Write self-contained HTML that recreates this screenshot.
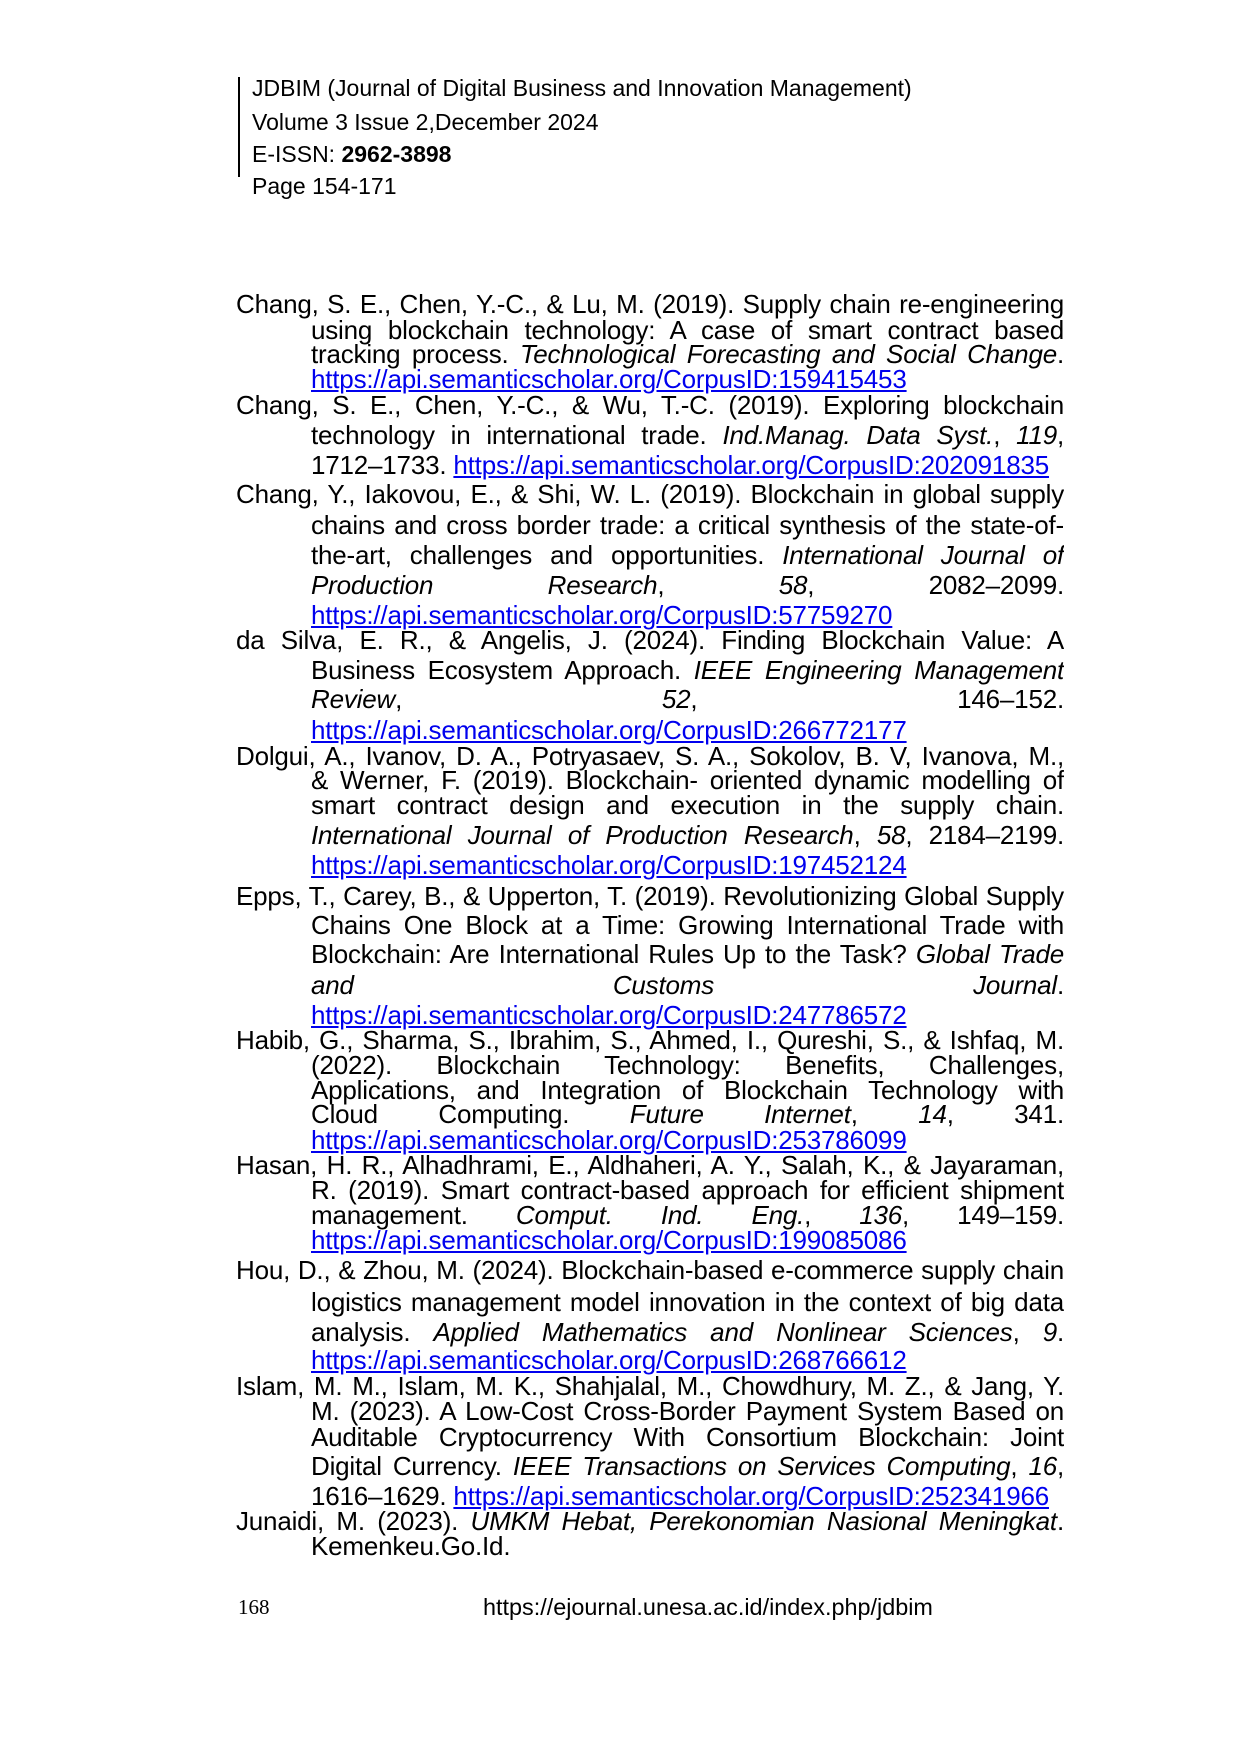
<!DOCTYPE html>
<html><head><meta charset="utf-8"><style>
body{margin:0;background:#fff;}
.p{position:relative;width:1240px;height:1754px;overflow:hidden;font-family:"Liberation Sans",Arial,sans-serif;color:#000;}
.l{position:absolute;height:30px;line-height:30px;font-size:26px;letter-spacing:-0.2px;white-space:nowrap;}
.j{text-align:justify;text-align-last:justify;white-space:normal;overflow:hidden;}
.f{left:236px;width:828px;}
.i{left:311px;width:753px;}
a{color:#0000ee;text-decoration:underline;}
.h{position:absolute;left:252px;font-size:23px;line-height:30px;height:30px;white-space:nowrap;}
</style></head><body><div class="p">
<div style="position:absolute;left:238px;top:77px;width:2px;height:100px;background:#000"></div>
<div class="h" style="top:73px">JDBIM (Journal of Digital Business and Innovation Management)</div>
<div class="h" style="top:107px">Volume 3 Issue 2,December 2024</div>
<div class="h" style="top:139px">E-ISSN: <b>2962-3898</b></div>
<div class="h" style="top:171px">Page 154-171</div>

<div class="l j f" style="top:289px">Chang, S. E., Chen, Y.-C., &amp; Lu, M. (2019). Supply chain re-engineering</div>
<div class="l j i" style="top:315px">using blockchain technology: A case of smart contract based</div>
<div class="l j i" style="top:339px">tracking process. <i>Technological Forecasting and Social Change</i>.</div>
<div class="l i" style="top:364px"><a>https://api.semanticscholar.org/CorpusID:159415453</a></div>

<div class="l j f" style="top:390px">Chang, S. E., Chen, Y.-C., &amp; Wu, T.-C. (2019). Exploring blockchain</div>
<div class="l j i" style="top:420px">technology in international trade. <i>Ind.Manag. Data Syst.</i>, <i>119</i>,</div>
<div class="l i" style="top:450px">1712–1733. <a>https://api.semanticscholar.org/CorpusID:202091835</a></div>

<div class="l j f" style="top:479px">Chang, Y., Iakovou, E., &amp; Shi, W. L. (2019). Blockchain in global supply</div>
<div class="l j i" style="top:510px">chains and cross border trade: a critical synthesis of the state-of-</div>
<div class="l j i" style="top:540px">the-art, challenges and opportunities. <i>International Journal of</i></div>
<div class="l j i" style="top:570px"><i>Production Research</i>, <i>58</i>, 2082–2099.</div>
<div class="l i" style="top:600px"><a>https://api.semanticscholar.org/CorpusID:57759270</a></div>

<div class="l j f" style="top:625px">da Silva, E. R., &amp; Angelis, J. (2024). Finding Blockchain Value: A</div>
<div class="l j i" style="top:655px">Business Ecosystem Approach. <i>IEEE Engineering Management</i></div>
<div class="l j i" style="top:684px"><i>Review</i>, <i>52</i>, 146–152.</div>
<div class="l i" style="top:715px"><a>https://api.semanticscholar.org/CorpusID:266772177</a></div>

<div class="l j f" style="top:741px">Dolgui, A., Ivanov, D. A., Potryasaev, S. A., Sokolov, B. V, Ivanova, M.,</div>
<div class="l j i" style="top:765px">&amp; Werner, F. (2019). Blockchain- oriented dynamic modelling of</div>
<div class="l j i" style="top:790px">smart contract design and execution in the supply chain.</div>
<div class="l j i" style="top:820px"><i>International Journal of Production Research</i>, <i>58</i>, 2184–2199.</div>
<div class="l i" style="top:850px"><a>https://api.semanticscholar.org/CorpusID:197452124</a></div>

<div class="l j f" style="top:881px">Epps, T., Carey, B., &amp; Upperton, T. (2019). Revolutionizing Global Supply</div>
<div class="l j i" style="top:910px">Chains One Block at a Time: Growing International Trade with</div>
<div class="l j i" style="top:939px">Blockchain: Are International Rules Up to the Task? <i>Global Trade</i></div>
<div class="l j i" style="top:970px"><i>and Customs Journal</i>.</div>
<div class="l i" style="top:1000px"><a>https://api.semanticscholar.org/CorpusID:247786572</a></div>

<div class="l j f" style="top:1025px">Habib, G., Sharma, S., Ibrahim, S., Ahmed, I., Qureshi, S., &amp; Ishfaq, M.</div>
<div class="l j i" style="top:1050px">(2022). Blockchain Technology: Benefits, Challenges,</div>
<div class="l j i" style="top:1075px">Applications, and Integration of Blockchain Technology with</div>
<div class="l j i" style="top:1099px">Cloud Computing. <i>Future Internet</i>, <i>14</i>, 341.</div>
<div class="l i" style="top:1125px"><a>https://api.semanticscholar.org/CorpusID:253786099</a></div>

<div class="l j f" style="top:1150px">Hasan, H. R., Alhadhrami, E., Aldhaheri, A. Y., Salah, K., &amp; Jayaraman,</div>
<div class="l j i" style="top:1175px">R. (2019). Smart contract-based approach for efficient shipment</div>
<div class="l j i" style="top:1200px">management. <i>Comput. Ind. Eng.</i>, <i>136</i>, 149–159.</div>
<div class="l i" style="top:1225px"><a>https://api.semanticscholar.org/CorpusID:199085086</a></div>

<div class="l j f" style="top:1255px">Hou, D., &amp; Zhou, M. (2024). Blockchain-based e-commerce supply chain</div>
<div class="l j i" style="top:1287px">logistics management model innovation in the context of big data</div>
<div class="l j i" style="top:1317px">analysis. <i>Applied Mathematics and Nonlinear Sciences</i>, <i>9</i>.</div>
<div class="l i" style="top:1345px"><a>https://api.semanticscholar.org/CorpusID:268766612</a></div>

<div class="l j f" style="top:1371px">Islam, M. M., Islam, M. K., Shahjalal, M., Chowdhury, M. Z., &amp; Jang, Y.</div>
<div class="l j i" style="top:1396px">M. (2023). A Low-Cost Cross-Border Payment System Based on</div>
<div class="l j i" style="top:1422px">Auditable Cryptocurrency With Consortium Blockchain: Joint</div>
<div class="l j i" style="top:1451px">Digital Currency. <i>IEEE Transactions on Services Computing</i>, <i>16</i>,</div>
<div class="l i" style="top:1481px">1616–1629. <a>https://api.semanticscholar.org/CorpusID:252341966</a></div>

<div class="l j f" style="top:1506px">Junaidi, M. (2023). <i>UMKM Hebat, Perekonomian Nasional Meningkat</i>.</div>
<div class="l i" style="top:1531px">Kemenkeu.Go.Id.</div>

<div class="l" style="top:1592px;left:238px;font-family:'Liberation Serif',serif;font-size:21px;letter-spacing:0">168</div>
<div class="l" style="top:1592px;left:483px;font-size:23.4px;letter-spacing:0">https://ejournal.unesa.ac.id/index.php/jdbim</div>
</div></body></html>
